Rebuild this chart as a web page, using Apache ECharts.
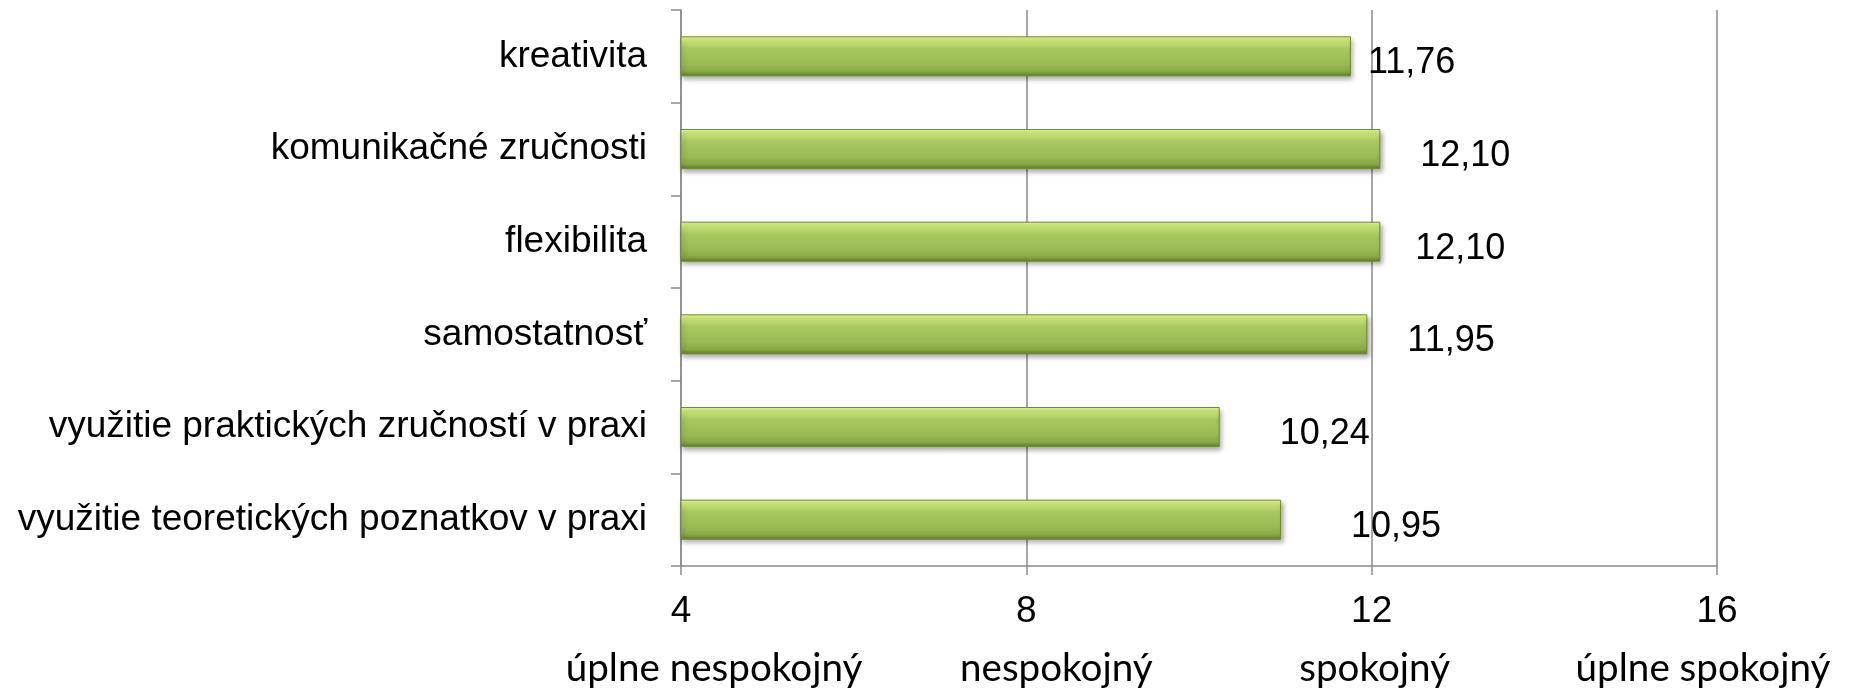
<!DOCTYPE html>
<html>
<head>
<meta charset="utf-8">
<script src="https://cdn.jsdelivr.net/npm/echarts@6/dist/echarts.min.js"></script>
<style>
html,body{margin:0;padding:0;background:#fff;}
#main{width:1854px;height:688px;}
</style>
</head>
<body>
<div id="main"></div>
<script>
// ---- data ----
const categories = [
  'kreativita',
  'komunikačné zručnosti',
  'flexibilita',
  'samostatnosť',
  'využitie praktických zručností v praxi',
  'využitie teoretických poznatkov v praxi'
];
const values = [11.76, 12.10, 12.10, 11.95, 10.24, 10.95];
const xTicks = [4, 8, 12, 16];
const xTickNames = ['úplne nespokojný', 'nespokojný', 'spokojný', 'úplne spokojný'];

// ---- layout (label nudges, px) ----
const labelGap = [17, 40, 35, 40, 60, 70];
const nameShift = [33, 30, 3, -14];

// size the lower tick-name font so that its width matches the reference
function fitSize(text, family, targetW) {
  const c = document.createElement('canvas').getContext('2d');
  c.font = '100px ' + family;
  return Math.round(100 * targetW / c.measureText(text).width * 10) / 10;
}

const chart = echarts.init(document.getElementById('main'));
const nameFont = 'Lato';
const nameSize = fitSize(xTickNames[0], nameFont, 297);

const barColor = new echarts.graphic.LinearGradient(0, 0, 0, 1, [
  {offset: 0, color: '#e6fa94'},
  {offset: 0.12, color: '#cce87a'},
  {offset: 0.3, color: '#a9c960'},
  {offset: 0.7, color: '#9aba55'},
  {offset: 0.88, color: '#88a846'},
  {offset: 1, color: '#5c7a28'}
]);
const seriesData = values.map((v, i) => ({
  value: v,
  label: {distance: labelGap[i]}
}));
const rich = {
  n: {fontSize: 37, fontFamily: 'Liberation Sans', color: '#000', lineHeight: 34}
};
nameShift.forEach((d, i) => {
  rich['t' + i] = {
    fontSize: nameSize, fontFamily: nameFont, color: '#000', lineHeight: 80,
    padding: d >= 0 ? [0, 0, 0, 2 * d] : [0, -2 * d, 0, 0]
  };
});
chart.setOption({
  animation: false,
  grid: {left: 681, right: 137, top: 10, bottom: 122, containLabel: false, outerBoundsMode: 'none'},
  xAxis: {
    type: 'value', min: 4, max: 16, interval: 4,
    axisLine: {show: true, lineStyle: {color: '#8a8a8a', width: 1.5}},
    axisTick: {show: true, length: 9, lineStyle: {color: '#8a8a8a', width: 1.5}},
    splitLine: {show: true, lineStyle: {color: '#8a8a8a', width: 1.5}},
    axisLabel: {
      margin: 29,
      hideOverlap: false,
      formatter: function (v) {
        const i = xTicks.indexOf(v);
        return '{n|' + v + '}\n{t' + i + '|' + (i >= 0 ? xTickNames[i] : '') + '}';
      },
      rich: rich
    }
  },
  yAxis: {
    type: 'category', data: categories, inverse: true,
    axisLine: {show: true, lineStyle: {color: '#8a8a8a', width: 1.5}},
    axisTick: {show: true, length: 10, lineStyle: {color: '#8a8a8a', width: 1.5}},
    axisLabel: {fontSize: 37, fontFamily: 'Liberation Sans', color: '#000', margin: 34}
  },
  series: [{
    type: 'bar',
    data: seriesData,
    barWidth: 40,
    itemStyle: {
      color: barColor,
      borderColor: '#6e8c35', borderWidth: 1,
      shadowColor: 'rgba(0,0,0,0.35)', shadowBlur: 5, shadowOffsetX: 2, shadowOffsetY: 3
    },
    label: {
      show: true, position: 'right', offset: [0, 7],
      fontSize: 36, fontFamily: 'Liberation Sans', color: '#000',
      formatter: p => p.value.toFixed(2).replace('.', ',')
    }
  }]
});
</script>
</body>
</html>
